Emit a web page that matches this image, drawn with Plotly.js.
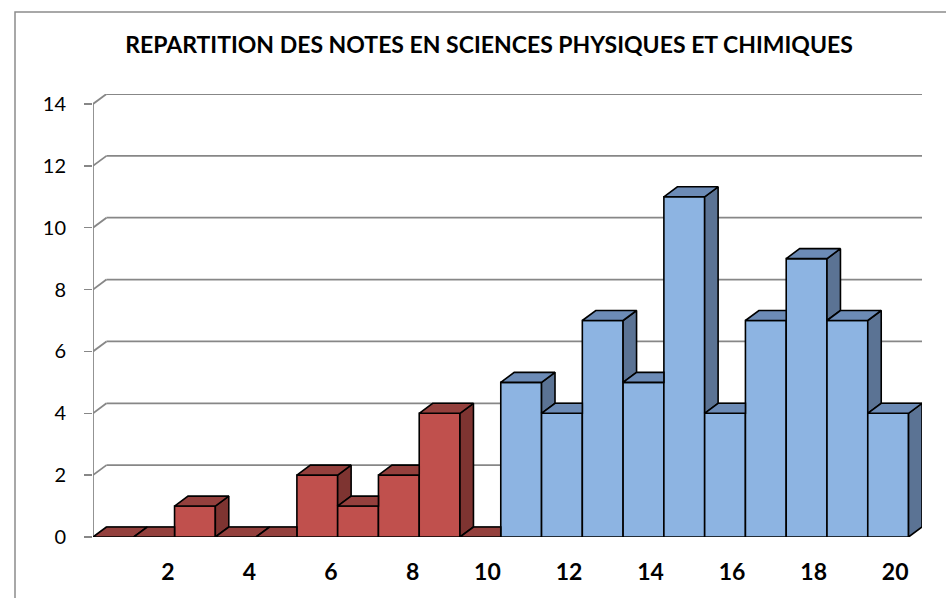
<!DOCTYPE html>
<html><head><meta charset="utf-8">
<script src="https://cdn.plot.ly/plotly-3.0.1.min.js"></script>
<style>html,body{margin:0;padding:0;background:#fff}#chart{width:946px;height:598px}</style>
</head><body><div id="chart"></div>
<script>
// ---- data ----
const notes = [1,2,3,4,5,6,7,8,9,10,11,12,13,14,15,16,17,18,19,20];
const effectifs = [0,0,1,0,0,2,1,2,4,0,5,4,7,5,11,4,7,9,7,4];
const derniereNoteRouge = 10;
const yTickVals = [0,2,4,6,8,10,12,14];
const xTickLabels = ['2','4','6','8','10','12','14','16','18','20'];
const xTickNotes = [2,4,6,8,10,12,14,16,18,20];
const titre = 'REPARTITION DES NOTES EN SCIENCES PHYSIQUES ET CHIMIQUES';

// ---- style ----
const W = 946, H = 598, ML = 93, MR = 24, MT = 94, MB = 61;
const DX = 0.33, DY = 0.323;      // 3D depth offset (data units)
const GRID = '#878787';
const EDGE = '#000000';
const COL = {
  rouge: {front:'#C0504D', top:'#94403D', side:'#7E3431'},
  bleu:  {front:'#8DB4E2', top:'#6C8BB6', side:'#5B7394'}
};
const FONT = 'Lato, "Open Sans", sans-serif';

const n = notes.length;
const colorOf = i => notes[i] <= derniereNoteRouge ? COL.rouge : COL.bleu;
const yMax = yTickVals[yTickVals.length-1];
const xLo = notes[0]-0.5, xHi = notes[n-1]+0.5;

const traces = [];
// front faces as real bars
traces.push({
  type:'bar', x:notes, y:effectifs, width:1,
  marker:{color:notes.map((_,i)=>colorOf(i).front), line:{color:EDGE, width:1.6}},
  hoverinfo:'x+y', showlegend:false
});
function poly(xs, ys, fill){
  traces.push({type:'scatter', mode:'lines', x:xs.concat([xs[0]]), y:ys.concat([ys[0]]),
    fill:'toself', fillcolor:fill, line:{color:EDGE, width:1.6},
    hoverinfo:'skip', showlegend:false});
}
for (let i=0;i<n;i++){
  const c = notes[i], v = effectifs[i], col = colorOf(i);
  const next = i<n-1 ? effectifs[i+1] : 0;
  const L = c-0.5, R = c+0.5;
  // side face (visible portion above the neighbour)
  if (v > next || i===n-1){
    const lowF = (i===n-1) ? 0 : next;
    if (v > lowF) poly([R, R, R+DX, R+DX], [lowF, v, v+DY, lowF+DY], col.side);
  }
  // top face (clipped where the neighbour is taller)
  if (i<n-1 && next > v){
    poly([L, L+DX, R, R], [v, v+DY, v+DY, v], col.top);
  } else {
    poly([L, L+DX, R+DX, R], [v, v+DY, v+DY, v], col.top);
  }
}

// ---- shapes ----
const shapes = [];
const pw = W-ML-MR, ph = H-MT-MB;
const px2paperX = p => (p-ML)/pw, px2paperY = p => 1-(p-MT)/ph;
shapes.push({type:'rect', xref:'paper', yref:'paper', layer:'below',
  x0:px2paperX(15), x1:px2paperX(960), y0:px2paperY(12), y1:px2paperY(620),
  line:{color:'#8c8c8c', width:1.5}, fillcolor:'rgba(0,0,0,0)'});
yTickVals.forEach(v=>{
  shapes.push({type:'line', xref:'x', yref:'y', layer:'below', x0:xLo+DX, x1:xHi+DX, y0:v+DY, y1:v+DY, line:{color:GRID, width:1.8}});
  shapes.push({type:'line', xref:'x', yref:'y', layer:'below', x0:xLo, x1:xLo+DX, y0:v, y1:v+DY, line:{color:GRID, width:1.8}});
});
shapes.push({type:'line', xref:'x', yref:'y', layer:'below', x0:xLo, x1:xLo, y0:0, y1:yMax, line:{color:GRID, width:1.8}});
shapes.push({type:'line', xref:'x', yref:'y', layer:'below', x0:xLo, x1:xHi, y0:0, y1:0, line:{color:GRID, width:1.8}});
for (let k=0;k<=n;k++){
  const b = xLo + k;
  shapes.push({type:'line', xref:'x', yref:'y', layer:'below', ysizemode:'pixel', yanchor:0,
    x0:b, x1:b, y0:0, y1:-8, line:{color:GRID, width:1.5}});
}

const layout = {
  width:W, height:H, margin:{l:ML, r:MR, t:MT, b:MB},
  paper_bgcolor:'#fff', plot_bgcolor:'rgba(0,0,0,0)',
  bargap:0,
  title:{text:titre, x:489/W, xanchor:'center', xref:'container', y:1-45/H, yref:'container', yanchor:'middle',
    font:{family:FONT, size:23, weight:'bold', color:'#000'}},
  xaxis:{range:[xLo, xHi+DX], tickmode:'array', tickvals:xTickNotes.map(t=>t+0.5), ticktext:xTickLabels,
    ticks:'', ticklabelposition:'outside left', ticklabelstandoff:19, showgrid:false, zeroline:false, showline:false,
    tickfont:{family:FONT, size:23, weight:'bold', color:'#000'}, fixedrange:true},
  yaxis:{range:[0, yMax+DY], tickmode:'array', tickvals:yTickVals, ticks:'outside', ticklen:8, tickwidth:1.5, tickcolor:GRID,
    ticklabelstandoff:14, showgrid:false, zeroline:false, showline:false,
    tickfont:{family:FONT, size:20, color:'#000'}, fixedrange:true},
  shapes:shapes,
  showlegend:false
};
Plotly.newPlot('chart', traces, layout, {displayModeBar:false, staticPlot:true});
</script>
</body></html>
